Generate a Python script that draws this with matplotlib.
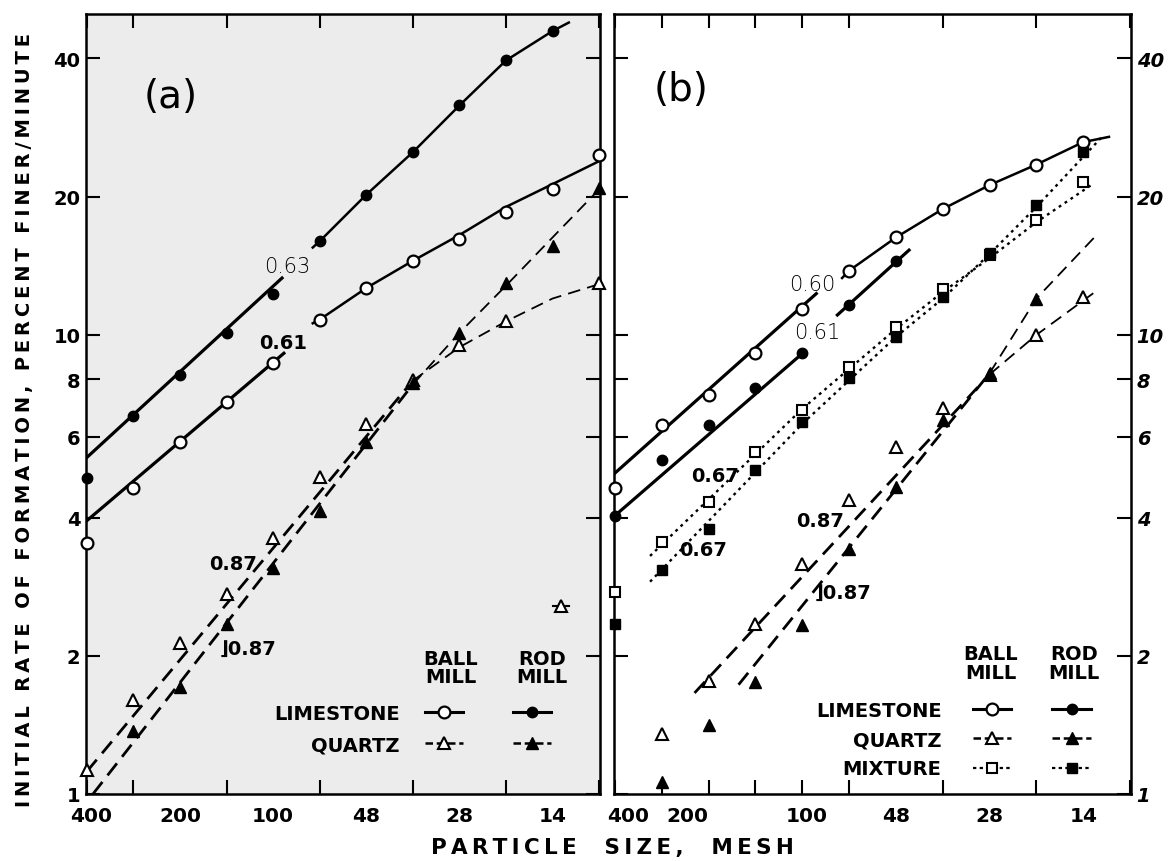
import matplotlib.pyplot as plt
from matplotlib.lines import Line2D
from matplotlib.legend_handler import HandlerTuple

plt.rcParams['font.family'] = ['DejaVu Sans']

# x axis = position of the root-2 sieve fraction (0 = 400 mesh ... 11 = 10 mesh)
size_ticks = list(range(12))
mesh_labels = ['400', '200', '100', '48', '28', '14']
mesh_pos_a = [0.1, 2, 4, 6, 8, 10]
mesh_pos_b = [0.28, 1.55, 4.1, 6, 8, 10]
rate_ticks = [1, 2, 4, 6, 8, 10, 20, 40]
rate_labels = ['1', '2', '4', '6', '8', '10', '20', '40']

# ---------------- panel (a) : measured points
a_ball_ls_x = list(range(12))
a_ball_ls = [3.52, 4.65, 5.84, 7.15, 8.67, 10.75, 12.65, 14.47, 16.2, 18.5, 20.75, 24.6]
a_rod_ls_x = list(range(11))
a_rod_ls = [4.89, 6.65, 8.18, 10.1, 12.3, 16.0, 20.2, 25.0, 31.6, 39.6, 45.9]
a_ball_qz_x = [0, 1, 2, 3, 4, 5, 6, 7, 8, 9, 11]
a_ball_qz = [1.13, 1.6, 2.13, 2.72, 3.61, 4.9, 6.4, 7.97, 9.5, 10.7, 12.97]
a_rod_qz_x = list(range(1, 12))
a_rod_qz = [1.375, 1.71, 2.35, 3.1, 4.13, 5.84, 7.84, 10.1, 13.0, 15.6, 20.9]

# panel (a) : fitted lines and drawn curves
a_rod_fit_x, a_rod_fit = [0, 4.19], [5.41, 13.3]
a_rod_cur_x = [4.85, 5, 6, 7, 8, 9, 10, 10.35]
a_rod_cur = [15.5, 16.0, 20.2, 25.0, 31.6, 39.6, 45.9, 47.9]
a_ball_fit_x, a_ball_fit = [0, 4.23], [3.94, 9.12]
a_ball_cur_x = [4.85, 5, 6, 7, 8, 9, 10, 11]
a_ball_cur = [10.6, 10.8, 12.65, 14.5, 16.5, 19.0, 21.3, 23.9]
a_bqz_line_x = [0, 7, 8, 9, 10, 11]
a_bqz_line = [1.12, 7.95, 9.4, 10.7, 12.0, 12.9]
a_rqz_line_x = [0.13, 7, 8, 9, 10, 10.95]
a_rqz_line = [1.0, 7.8, 10.1, 12.8, 16.3, 20.5]
a_stray_x, a_stray = [10.0, 10.35], [2.57, 2.57]

# ---------------- panel (b) : measured points
b_ball_ls_x = list(range(11))
b_ball_ls = [4.63, 6.37, 7.4, 9.15, 11.4, 13.8, 16.3, 18.8, 21.2, 23.5, 26.3]
b_rod_ls_x = list(range(7))
b_rod_ls = [4.03, 5.34, 6.37, 7.66, 9.12, 11.6, 14.5]
b_ball_mx_x = list(range(11))
b_ball_mx = [2.75, 3.54, 4.33, 5.55, 6.87, 8.5, 10.4, 12.6, 14.9, 17.8, 21.5]
b_rod_mx_x = list(range(11))
b_rod_mx = [2.35, 3.07, 3.78, 5.08, 6.47, 8.04, 9.88, 12.1, 15.1, 19.2, 24.97]
b_ball_qz_x = list(range(1, 11))
b_ball_qz = [1.35, 1.76, 2.35, 3.17, 4.37, 5.71, 6.92, 8.18, 10.0, 12.1]
b_rod_qz_x = list(range(1, 10))
b_rod_qz = [1.06, 1.41, 1.75, 2.33, 3.42, 4.67, 6.53, 8.25, 12.0]

# panel (b) : fitted lines and drawn curves
b_ball_fit_x, b_ball_fit = [0, 4.3], [5.0, 12.3]
b_ball_cur_x = [4.85, 5, 6, 7, 8, 9, 10, 10.55]
b_ball_cur = [13.3, 13.8, 16.3, 18.8, 21.2, 23.5, 26.3, 27.0]
b_rod_fit_x, b_rod_fit = [0, 4.05], [4.04, 9.2]
b_rod_cur_x, b_rod_cur = [4.75, 6.28], [11.05, 15.3]
b_bmx_line_x = [0.75, 4, 6, 7, 8, 9, 10.2]
b_bmx_line = [3.3, 6.9, 10.3, 12.4, 14.7, 17.6, 21.3]
b_rmx_line_x = [0.75, 4, 6, 7, 8, 9, 10.4]
b_rmx_line = [2.9, 6.4, 9.9, 12.0, 15.0, 19.0, 27.0]
b_bqz_line_x = [1.7, 8, 9, 10.25]
b_bqz_line = [1.66, 8.2, 10.0, 12.4]
b_rqz_line_x = [2.64, 8, 9, 10.26]
b_rqz_line = [1.73, 8.25, 12.0, 16.4]

# marker styles
ball_ls_st = dict(marker='o', mfc='white', mec='black', ms=8.5, mew=1.6)
rod_ls_st = dict(marker='o', mfc='black', mec='black', ms=7.5)
ball_qz_st = dict(marker='^', mfc='white', mec='black', ms=8.5, mew=1.5)
rod_qz_st = dict(marker='^', mfc='black', mec='black', ms=8.5)
ball_mx_st = dict(marker='s', mfc='white', mec='black', ms=7, mew=1.5)
rod_mx_st = dict(marker='s', mfc='black', mec='black', ms=7)

solid = dict(color='black', lw=2.3, ls='-')
curve = dict(color='black', lw=1.8, ls='-')
dash = dict(color='black', lw=2.0, ls=(0, (5.5, 3)))
thin_dash = dict(color='black', lw=1.3, ls=(0, (7, 4)))
dot = dict(color='black', lw=1.7, ls=(0, (1.2, 1.8)))

fig = plt.figure(figsize=(11.71, 8.62), dpi=100)
ax1 = fig.add_axes([86 / 1171, 67 / 862, 514 / 1171, 780 / 862])
ax2 = fig.add_axes([614 / 1171, 67 / 862, 517 / 1171, 780 / 862])
ax1.set_facecolor('#ececec')


def setup(ax, label_pos, side):
    ax.set_yscale('log')
    ax.set_ylim(1, 50)
    ax.set_xlim(-0.02, 11.02)
    ax.set_yticks(rate_ticks)
    ax.set_yticklabels(rate_labels)
    ax.set_yticks([], minor=True)
    ax.set_xticks(size_ticks, minor=True)
    ax.set_xticks(label_pos)
    ax.set_xticklabels(mesh_labels, fontsize=14.5, fontweight='bold')
    ax.tick_params(axis='x', which='major', length=0, pad=9)
    ax.tick_params(axis='x', which='minor', direction='in', length=10, width=1.5,
                   top=True, bottom=True)
    ax.tick_params(axis='y', which='major', direction='in', length=10, width=1.5,
                   left=True, right=True, pad=4,
                   labelleft=(side == 'left'), labelright=(side == 'right'))
    for s in ax.spines.values():
        s.set_linewidth(1.8)


setup(ax1, mesh_pos_a, 'left')
setup(ax2, mesh_pos_b, 'right')
for t in ax1.get_yticklabels():
    t.set_fontsize(14)
    t.set_fontweight('bold')
for t in ax2.get_yticklabels():
    t.set_fontsize(14)
    t.set_fontweight('bold')
    t.set_fontstyle('italic')

# ---------------- draw panel (a)
ax1.plot(a_rod_fit_x, a_rod_fit, **solid)
ax1.plot(a_rod_cur_x, a_rod_cur, **curve)
ax1.plot(a_ball_fit_x, a_ball_fit, **solid)
ax1.plot(a_ball_cur_x, a_ball_cur, **curve)
ax1.plot(a_bqz_line_x[:2], a_bqz_line[:2], **dash)
ax1.plot(a_bqz_line_x[1:], a_bqz_line[1:], **thin_dash)
ax1.plot(a_rqz_line_x[:2], a_rqz_line[:2], **dash)
ax1.plot(a_rqz_line_x[1:], a_rqz_line[1:], **thin_dash)
ax1.plot(a_stray_x, a_stray, color='black', lw=1.5)
ax1.plot([sum(a_stray_x) / 2], [a_stray[0]], ls='none', **ball_qz_st)

ax1.plot(a_ball_ls_x, a_ball_ls, ls='none', clip_on=False, zorder=5, **ball_ls_st)
ax1.plot(a_rod_ls_x, a_rod_ls, ls='none', clip_on=False, zorder=5, **rod_ls_st)
ax1.plot(a_ball_qz_x, a_ball_qz, ls='none', clip_on=False, zorder=5, **ball_qz_st)
ax1.plot(a_rod_qz_x, a_rod_qz, ls='none', clip_on=False, zorder=5, **rod_qz_st)

# ---------------- draw panel (b)
ax2.plot(b_ball_fit_x, b_ball_fit, **solid)
ax2.plot(b_ball_cur_x, b_ball_cur, **curve)
ax2.plot(b_rod_fit_x, b_rod_fit, **solid)
ax2.plot(b_rod_cur_x, b_rod_cur, **solid)
ax2.plot(b_bmx_line_x, b_bmx_line, **dot)
ax2.plot(b_rmx_line_x, b_rmx_line, **dot)
ax2.plot(b_bqz_line_x[:2], b_bqz_line[:2], **dash)
ax2.plot(b_bqz_line_x[1:], b_bqz_line[1:], **thin_dash)
ax2.plot(b_rqz_line_x[:2], b_rqz_line[:2], **dash)
ax2.plot(b_rqz_line_x[1:], b_rqz_line[1:], **thin_dash)

ax2.plot(b_ball_ls_x, b_ball_ls, ls='none', clip_on=False, zorder=5, **ball_ls_st)
ax2.plot(b_rod_ls_x, b_rod_ls, ls='none', clip_on=False, zorder=5, **rod_ls_st)
ax2.plot(b_ball_mx_x, b_ball_mx, ls='none', clip_on=False, zorder=5, **ball_mx_st)
ax2.plot(b_rod_mx_x, b_rod_mx, ls='none', clip_on=False, zorder=5, **rod_mx_st)
ax2.plot(b_ball_qz_x, b_ball_qz, ls='none', clip_on=False, zorder=5, **ball_qz_st)
ax2.plot(b_rod_qz_x, b_rod_qz, ls='none', clip_on=False, zorder=5, **rod_qz_st)

# ---------------- annotations
bold = dict(fontsize=14, fontweight='bold', ha='center', va='center')
light = dict(fontsize=15, fontweight='light', ha='center', va='center')

ax1.text(0.165, 0.895, '(a)', transform=ax1.transAxes, fontsize=28,
         ha='center', va='center')
ax1.text(0.391, 0.677, '0.63', transform=ax1.transAxes, **light)
ax1.text(0.383, 0.579, '0.61', transform=ax1.transAxes, **bold)
ax1.text(0.286, 0.295, '0.87', transform=ax1.transAxes, **bold)
ax1.text(0.315, 0.187, '\u230b0.87', transform=ax1.transAxes, **bold)

ax2.text(0.130, 0.904, '(b)', transform=ax2.transAxes, fontsize=28,
         ha='center', va='center')
ax2.text(0.383, 0.654, '0.60', transform=ax2.transAxes, **light)
ax2.text(0.393, 0.592, '0.61', transform=ax2.transAxes, **light)
ax2.text(0.195, 0.408, '0.67', transform=ax2.transAxes, **bold)
ax2.text(0.172, 0.313, '0.67', transform=ax2.transAxes, **bold)
ax2.text(0.398, 0.350, '0.87', transform=ax2.transAxes, **bold)
ax2.text(0.443, 0.259, '\u230b0.87', transform=ax2.transAxes, **bold)


# ---------------- legends (row name, ball mill sample, rod mill sample)
def handle(style, line):
    return Line2D([], [], **line, **style)


leg_line = dict(color='black', lw=2.2, ls='-')
leg_dash = dict(color='black', lw=1.8, ls=(0, (3, 1.5)))
leg_dot = dict(color='black', lw=1.6, ls=(0, (1.5, 1.5)))

rows_a = [('LIMESTONE', handle(ball_ls_st, leg_line), handle(rod_ls_st, leg_line)),
          ('QUARTZ', handle(ball_qz_st, leg_dash), handle(rod_qz_st, leg_dash))]
rows_b = rows_a + [('MIXTURE', handle(ball_mx_st, leg_dot), handle(rod_mx_st, leg_dot))]


def mill_legend(ax, rows, anchor, pad, hlen, tpad, spacing, heads):
    leg = ax.legend([(b, r) for _, b, r in rows], [n for n, _, _ in rows],
                    handler_map={tuple: HandlerTuple(ndivide=None, pad=pad)},
                    markerfirst=False, frameon=False, loc='upper right',
                    bbox_to_anchor=anchor, borderaxespad=0, borderpad=0,
                    handlelength=hlen, handletextpad=tpad, labelspacing=spacing,
                    numpoints=1, prop=dict(weight='bold', size=14))
    for x, y, txt in heads:
        ax.text(x, y, txt, transform=ax.transAxes, fontsize=14, fontweight='bold',
                ha='center', va='center', linespacing=0.95)
    return leg


mill_legend(ax1, rows_a, (0.905, 0.116), 2.6, 6.5, 1.3, 0.65,
            [(0.71, 0.162, 'BALL\nMILL'), (0.887, 0.162, 'ROD\nMILL')])
mill_legend(ax2, rows_b, (0.923, 0.119), 2.1, 6.1, 1.6, 0.52,
            [(0.729, 0.168, 'BALL\nMILL'), (0.890, 0.168, 'ROD\nMILL')])

# axis titles, letter-spaced like the original lettering
ylab = 'INITIAL RATE OF FORMATION, PERCENT FINER/MINUTE'
xlab = 'PARTICLE  SIZE,  MESH'
fig.text(0.021, 0.513, '\u2009'.join(ylab), rotation=90, fontsize=14,
         fontweight='bold', ha='center', va='center')
fig.text(0.523, 0.016, '\u2009'.join(xlab), fontsize=15.5, fontweight='bold',
         ha='center', va='center')

fig.savefig('out.png', dpi=100)
